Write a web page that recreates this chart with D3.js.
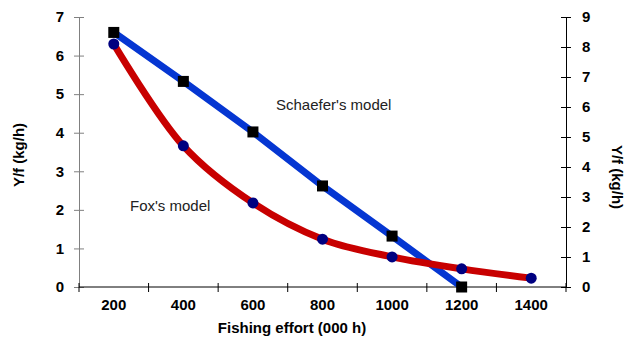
<!DOCTYPE html>
<html>
<head>
<meta charset="utf-8">
<script src="https://cdn.jsdelivr.net/npm/d3@7"></script>
<style>
  body { margin: 0; background: #fff; }
  svg text { font-family: "Liberation Sans", Arial, sans-serif; }
</style>
</head>
<body>
<svg id="chart" width="629" height="337"></svg>
<script>
//*************************************************
// Data
//*************************************************
var effort = [200, 400, 600, 800, 1000, 1200, 1400];
var schaefer = [6.6, 5.33, 4.02, 2.62, 1.32, 0];      // on left axis units
var fox = [6.3, 3.66, 2.18, 1.24, 0.78, 0.47, 0.23];
var leftTicks = [0, 1, 2, 3, 4, 5, 6, 7];
var rightTicks = [0, 1, 2, 3, 4, 5, 6, 7, 8, 9];

//*************************************************
// Layout
//*************************************************
var plot = { left: 79, right: 566, top: 17, bottom: 287 };
var svg = d3.select('#chart');

var x = d3.scaleBand().domain(effort).range([plot.left, plot.right]);
var yLeft = d3.scaleLinear().domain([0, 7]).range([plot.bottom, plot.top]);
var yRight = d3.scaleLinear().domain([0, 9]).range([plot.bottom, plot.top]);

function cx(d){ return x(d) + x.bandwidth() / 2; }

//----------------------------------------------------------------------------------
// Axes
//----------------------------------------------------------------------------------
var gLeft = svg.append('g')
    .attr('transform', 'translate(' + plot.left + ',0)')
    .call(d3.axisLeft(yLeft).tickValues(leftTicks).tickFormat(d3.format('d'))
        .tickSize(5).tickSizeOuter(0).tickPadding(10));
gLeft.select('.domain').attr('stroke', '#808080');
gLeft.selectAll('.tick line').attr('stroke', '#808080').attr('x2', -5).attr('x1', 5);

var gRight = svg.append('g')
    .attr('transform', 'translate(' + plot.right + ',0)')
    .call(d3.axisRight(yRight).tickValues(rightTicks).tickSize(5).tickSizeOuter(0).tickPadding(11));
gRight.selectAll('.tick line').attr('x1', -5);

var gBottom = svg.append('g')
    .attr('transform', 'translate(0,' + plot.bottom + ')')
    .call(d3.axisBottom(x).tickSize(0).tickPadding(12));
gBottom.select('.domain').attr('d', 'M' + plot.left + ',0H' + plot.right);

// tick marks between categories
var bounds = d3.range(effort.length + 1).map(function (i){ return plot.left + i * x.step(); });
gBottom.selectAll('.sep').data(bounds).enter().append('line')
    .attr('class', 'sep')
    .attr('x1', function (d){ return d; }).attr('x2', function (d){ return d; })
    .attr('y1', -4).attr('y2', 5)
    .attr('stroke', '#000');

svg.selectAll('.tick text')
    .style('font-size', '15px')
    .style('font-weight', 'bold')
    .attr('fill', '#000');

//----------------------------------------------------------------------------------
// Axis titles
//----------------------------------------------------------------------------------
svg.append('text')
    .attr('transform', 'translate(24,155) rotate(-90)')
    .attr('text-anchor', 'middle')
    .style('font-size', '15px').style('font-weight', 'bold')
    .text('Y/f (kg/h)');

svg.append('text')
    .attr('transform', 'translate(612,177) rotate(90)')
    .attr('text-anchor', 'middle')
    .style('font-size', '15px').style('font-weight', 'bold')
    .text('Y/f (kg/h)');

svg.append('text')
    .attr('x', 292).attr('y', 333)
    .attr('text-anchor', 'middle')
    .style('font-size', '15px').style('font-weight', 'bold')
    .text('Fishing effort (000 h)');

//----------------------------------------------------------------------------------
// Series
//----------------------------------------------------------------------------------
var foxData = effort.map(function (e, i){ return { e: e, v: fox[i] }; });
var schData = schaefer.map(function (v, i){ return { e: effort[i], v: v }; });

svg.append('path')
    .datum(schData)
    .attr('fill', 'none')
    .attr('stroke', '#0536d2')
    .attr('stroke-width', 7)
    .attr('d', d3.line().x(function (d){ return cx(d.e); }).y(function (d){ return yLeft(d.v); }));

svg.append('path')
    .datum(foxData)
    .attr('fill', 'none')
    .attr('stroke', '#c80000')
    .attr('stroke-width', 7)
    .attr('d', d3.line().curve(d3.curveCatmullRom.alpha(0.5))
        .x(function (d){ return cx(d.e); }).y(function (d){ return yLeft(d.v); }));

svg.selectAll('.foxPt').data(foxData).enter().append('circle')
    .attr('class', 'foxPt')
    .attr('cx', function (d){ return cx(d.e); })
    .attr('cy', function (d){ return yLeft(d.v); })
    .attr('r', 5.5)
    .attr('fill', '#000080');

svg.selectAll('.schPt').data(schData).enter().append('rect')
    .attr('class', 'schPt')
    .attr('x', function (d){ return cx(d.e) - 5.5; })
    .attr('y', function (d){ return yLeft(d.v) - 5.5; })
    .attr('width', 11).attr('height', 11)
    .attr('fill', '#000');

//----------------------------------------------------------------------------------
// Labels
//----------------------------------------------------------------------------------
svg.append('text')
    .attr('x', 276).attr('y', 110)
    .style('font-size', '15px').attr('fill', '#222')
    .text("Schaefer's model");

svg.append('text')
    .attr('x', 130).attr('y', 211)
    .style('font-size', '15px').attr('fill', '#222')
    .text("Fox's model");
</script>
</body>
</html>
